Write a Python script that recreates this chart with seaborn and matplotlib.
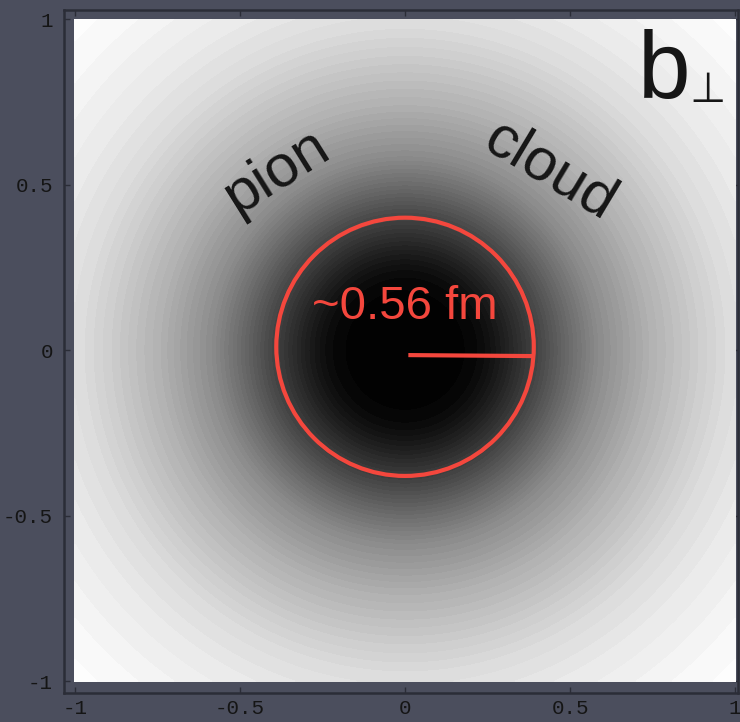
import numpy as np
import matplotlib
matplotlib.use('agg')
import matplotlib.pyplot as plt
from matplotlib.patches import Circle
import seaborn as sns

# radial profile of the transverse density, brightness (0 black, 1 white)
RADIUS = [0.0, 0.20, 0.25, 0.30, 0.39, 0.50, 0.59, 0.74, 0.89, 0.98, 1.10, 1.27, 1.45]
BRIGHTNESS = [0.0, 0.02, 0.06, 0.12, 0.25, 0.42, 0.55, 0.69, 0.80, 0.86, 0.91, 0.96, 1.0]

TICKS = [-1, -0.5, 0, 0.5, 1]
TICK_LABELS = ["-1", "-0.5", "0", "0.5", "1"]

RING_RADIUS = 0.39
RING_LABEL = "~0.56 fm"
CLOUD_WORDS = ["pion", "cloud"]

BG = "#4b4e5d"
RED = "#f4473d"

sns.set_theme(style="ticks")
plt.rcParams['axes.unicode_minus'] = False
plt.rcParams['font.family'] = ['Liberation Sans', 'DejaVu Sans']

fig = plt.figure(figsize=(7.4, 7.22), dpi=100, facecolor=BG)
ax = fig.add_axes([0.0865, 0.040, 0.911, 0.946])
ax.set_facecolor(BG)

# density on the b_perp plane
b = np.linspace(-1, 1, 501)
bx, by = np.meshgrid(b, b)
r = np.sqrt(bx**2 + by**2)
dens = np.interp(r, RADIUS, BRIGHTNESS)
ax.contourf(bx, by, dens, levels=np.linspace(0, 1, 56), cmap="gray", vmin=0, vmax=1)

ax.set_xlim(-1.033, 1.009)
ax.set_ylim(-1.036, 1.027)

for s in ax.spines.values():
    s.set_color("#2b2d37")
    s.set_linewidth(1.8)

ax.set_xticks(TICKS)
ax.set_xticklabels(TICK_LABELS)
ax.set_yticks(TICKS)
ax.set_yticklabels(TICK_LABELS)
ax.tick_params(direction="in", length=4, width=1, color="#2b2d37",
               top=True, right=True, labelsize=15, labelcolor="#151515")
ax.tick_params(axis="x", pad=4)
ax.tick_params(axis="y", pad=8)
for lab in ax.get_xticklabels() + ax.get_yticklabels():
    lab.set_family("Liberation Mono")

# ring marking the radius
ax.add_patch(Circle((0, 0.01), RING_RADIUS, fill=False, edgecolor=RED, lw=3))
ax.plot([0.01, RING_RADIUS], [-0.015, -0.018], color=RED, lw=3, solid_capstyle="butt")
ax.text(0.0, 0.13, RING_LABEL, color=RED, fontsize=34, ha="center", va="center")

ax.text(-0.39, 0.54, CLOUD_WORDS[0], fontsize=43, rotation=32, color="#161616",
        ha="center", va="center", rotation_mode="anchor")
ax.text(0.44, 0.54, CLOUD_WORDS[1], fontsize=43, rotation=-31, color="#161616",
        ha="center", va="center", rotation_mode="anchor")

ax.text(0.705, 0.761, "b", fontsize=68, color="#161616", ha="left", va="baseline")
ax.text(0.862, 0.748, "\u22a5", fontsize=30, color="#161616", ha="left", va="baseline",
        family=["DejaVu Sans"])

fig.savefig("out.png", dpi=100, facecolor=BG)
